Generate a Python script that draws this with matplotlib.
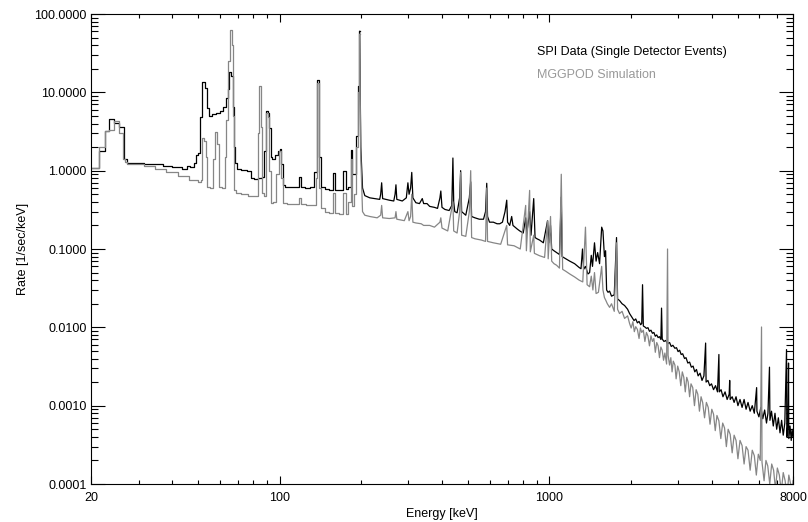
import matplotlib
matplotlib.use('Agg')
import matplotlib.pyplot as plt
from matplotlib.ticker import FixedLocator, LogLocator, FuncFormatter, NullFormatter

plt.rcParams['font.family'] = ['Liberation Sans', 'DejaVu Sans']

# SPI data, (energy [keV], rate [1/sec/keV])
spi_low = [
    (20, 1.08), (21.5, 1.08), (21.5, 1.8), (22.5, 1.8), (22.5, 3.2), (23.4, 3.2),
    (23.4, 4.6), (24.4, 4.6), (24.4, 4.1), (25.5, 4.1), (25.5, 3.6), (26.4, 3.6),
    (26.4, 1.4), (27.3, 1.4), (27.3, 1.25), (30, 1.25), (33, 1.22), (36, 1.2),
    (38, 1.15), (42, 1.1), (45, 1.05), (46, 1.15), (47.5, 1.12), (48.5, 1.25),
    (49.5, 1.6), (50.5, 1.7), (51.3, 4.8), (52.2, 13.5), (53.2, 11.5), (54.3, 6.3),
    (55.3, 5.0), (57, 5.3), (59, 5.5), (61, 5.8), (62.5, 6.5), (63.7, 8.5),
    (64.7, 11), (65.6, 18), (66.6, 16), (67.3, 6.5), (68.0, 2.0), (68.8, 1.25),
    (70, 1.05), (74, 1.02), (78, 1.0), (79, 0.8), (82, 0.78), (85, 0.8),
    (86.8, 0.83), (88.2, 1.8), (89.8, 5.8), (91, 5.5), (92, 3.5), (93.2, 1.5),
    (95, 1.4), (97.5, 1.6), (99.5, 1.8), (101, 1.9), (102.3, 1.2), (103.8, 0.65),
    (106, 0.62), (112, 0.62), (117, 0.62), (119, 0.83), (121, 0.62), (127, 0.6),
    (133, 0.62), (136, 0.95), (139, 14.4), (141, 1.5), (144, 0.62), (150, 0.58),
    (156, 0.57), (159, 0.93), (162, 0.57), (170, 0.56), (175, 1.0), (178, 0.58),
    (182, 0.62), (185, 1.85), (187, 0.9), (190, 0.9), (193, 2.8), (196, 12),
    (198, 60),
]
spi_mid = [
    (200, 2.0), (203, 0.6), (207, 0.48), (216, 0.45), (225, 0.44), (235, 0.43),
    (237, 0.5), (239, 0.7), (241, 0.44), (255, 0.42), (265, 0.41), (268, 0.5),
    (270, 0.66), (272, 0.43), (285, 0.41), (295, 0.45), (299, 0.7), (302, 0.5),
    (306, 0.6), (309, 0.95), (312, 0.45), (320, 0.39), (330, 0.38), (338, 0.44),
    (342, 0.38), (352, 0.38), (360, 0.35), (375, 0.34), (385, 0.33), (393, 0.45),
    (396, 0.55), (400, 0.34), (410, 0.32), (425, 0.31), (435, 0.36), (439, 1.45),
    (442, 0.4), (446, 0.3), (455, 0.29), (465, 0.45), (469, 1.0), (473, 0.3),
    (490, 0.27), (505, 0.45), (511, 0.72), (515, 0.26), (530, 0.25), (550, 0.24),
    (570, 0.24), (580, 0.3), (586, 0.69), (590, 0.26), (600, 0.22), (620, 0.22),
    (640, 0.21), (655, 0.21), (670, 0.22), (685, 0.3), (695, 0.42), (700, 0.22),
    (713, 0.2), (725, 0.26), (733, 0.2), (760, 0.18), (777, 0.17), (800, 0.16),
    (817, 0.25), (825, 0.16), (845, 0.3), (855, 0.15), (875, 0.44), (885, 0.14),
    (900, 0.135), (920, 0.13), (950, 0.12), (985, 0.23), (995, 0.12), (1010, 0.2),
    (1020, 0.1), (1040, 0.095), (1064, 0.09),
]
spi_high = [
    (1090, 0.085), (1107, 0.46), (1115, 0.08), (1150, 0.075), (1190, 0.07),
    (1240, 0.065), (1290, 0.058), (1310, 0.056), (1327, 0.1), (1340, 0.055),
    (1361, 0.06), (1390, 0.048), (1410, 0.05), (1430, 0.083), (1445, 0.06),
    (1470, 0.12), (1490, 0.07), (1510, 0.09), (1535, 0.065), (1563, 0.19),
    (1580, 0.17), (1600, 0.08), (1616, 0.095), (1630, 0.03), (1650, 0.028),
    (1672, 0.029), (1700, 0.025), (1740, 0.026), (1774, 0.14), (1790, 0.023),
    (1820, 0.022), (1860, 0.02), (1900, 0.019), (1950, 0.017), (1983, 0.015),
    (2030, 0.0132), (2060, 0.0122), (2090, 0.0128), (2120, 0.0114), (2150, 0.0119),
    (2180, 0.0108), (2200, 0.0112), (2215, 0.035), (2230, 0.0104), (2260, 0.0101),
    (2290, 0.0097), (2320, 0.0099), (2350, 0.0089), (2380, 0.0092), (2410, 0.0084),
    (2440, 0.0086), (2470, 0.0077), (2500, 0.008), (2530, 0.0074), (2560, 0.0076),
    (2590, 0.007), (2605, 0.0176), (2620, 0.0071), (2660, 0.0066), (2700, 0.0068),
    (2740, 0.0062), (2790, 0.0064), (2830, 0.0057), (2870, 0.0059), (2920, 0.0054),
    (2960, 0.0055), (3000, 0.0049), (3040, 0.0051), (3080, 0.0045), (3120, 0.0046),
    (3170, 0.004), (3210, 0.0041), (3260, 0.0035), (3310, 0.0036), (3360, 0.0031),
    (3410, 0.0032), (3460, 0.0027), (3510, 0.0029), (3560, 0.0024), (3620, 0.0026),
    (3680, 0.0021), (3740, 0.0024), (3795, 0.0063), (3810, 0.002), (3870, 0.0021),
    (3930, 0.0018), (3990, 0.0019), (4060, 0.0016), (4130, 0.0018), (4200, 0.0015),
    (4250, 0.0045), (4265, 0.0015), (4330, 0.0016), (4400, 0.0013), (4480, 0.0015),
    (4560, 0.0012), (4640, 0.0014), (4660, 0.0021), (4680, 0.0012), (4760, 0.0013),
    (4840, 0.0011), (4920, 0.0013), (5000, 0.001), (5090, 0.0012), (5180, 0.00095),
    (5270, 0.0012), (5360, 0.0009), (5450, 0.0011), (5550, 0.00085), (5650, 0.001),
    (5750, 0.0008), (5865, 0.0017), (5880, 0.00085), (5980, 0.00072), (6080, 0.00095),
    (6180, 0.00068), (6280, 0.00088), (6380, 0.0006), (6460, 0.0008), (6545, 0.0031),
    (6570, 0.00065), (6660, 0.00085), (6760, 0.00055), (6860, 0.0008), (6960, 0.0005),
    (7060, 0.0007), (7160, 0.00045), (7260, 0.00065), (7360, 0.00042), (7460, 0.0006),
    (7570, 0.0052), (7590, 0.0004), (7660, 0.0006), (7700, 0.0035), (7720, 0.00038),
    (7800, 0.00055), (7880, 0.00036), (7940, 0.0005), (8000, 0.0004),
]

# MGGPOD simulation
sim_low = [
    (20, 1.08), (21.5, 1.08), (21.5, 2.0), (22.5, 2.0), (22.5, 3.2), (23.4, 3.2),
    (23.4, 3.3), (24.4, 3.3), (24.4, 4.3), (25.4, 4.3), (25.4, 3.0), (26.2, 3.0),
    (26.2, 1.4), (27.3, 1.3), (27.3, 1.22), (30, 1.2), (33, 1.15), (36, 1.05),
    (40, 0.95), (44, 0.85), (48.6, 0.76), (50.7, 0.72), (51.3, 0.75), (52.0, 2.6),
    (53.0, 2.4), (53.6, 1.5), (54.5, 0.62), (56, 0.6), (57.0, 1.4), (58, 3.1),
    (59, 2.2), (60.0, 0.62), (62, 0.6), (63, 1.5), (64, 4.4), (65, 25), (66, 63),
    (67, 40), (67.6, 5), (68.3, 0.57), (70, 0.52), (74, 0.5), (79, 0.48),
    (82.5, 0.47), (83.5, 3.0), (84.5, 12), (85.5, 3.6), (86.2, 0.52), (88.5, 0.47),
    (89.8, 5.5), (91, 4.8), (92.5, 1.0), (93.5, 0.39), (96, 0.4), (98.5, 0.9),
    (100.5, 1.8), (102, 0.8), (103.5, 0.39), (110, 0.38), (117, 0.37), (119, 0.45),
    (121, 0.37), (130, 0.36), (135, 0.36), (137, 0.8), (139, 13), (141, 0.6),
    (144, 0.33), (150, 0.3), (156, 0.29), (159, 0.52), (162, 0.29), (170, 0.28),
    (175, 0.52), (178, 0.28), (182, 0.4), (185, 1.4), (187, 0.35), (190, 0.5),
    (193, 2.0), (196, 10), (198, 55),
]
sim_mid = [
    (200, 1.5), (203, 0.3), (207, 0.27), (216, 0.26), (230, 0.25), (237, 0.27),
    (239, 0.36), (241, 0.25), (255, 0.245), (268, 0.25), (270, 0.3), (272, 0.24),
    (290, 0.23), (299, 0.3), (302, 0.23), (306, 0.26), (309, 0.5), (312, 0.22),
    (320, 0.215), (335, 0.21), (342, 0.2), (360, 0.2), (375, 0.19), (393, 0.22),
    (396, 0.25), (400, 0.185), (420, 0.17), (439, 0.4), (442, 0.17), (455, 0.16),
    (465, 0.3), (469, 0.95), (473, 0.15), (490, 0.145), (505, 0.3), (511, 1.0),
    (515, 0.14), (530, 0.135), (560, 0.13), (580, 0.125), (586, 0.6), (590, 0.125),
    (620, 0.12), (660, 0.115), (695, 0.2), (700, 0.113), (740, 0.11), (780, 0.1),
    (817, 0.36), (822, 0.095), (845, 0.56), (850, 0.092), (875, 0.15), (880, 0.088),
    (920, 0.082), (960, 0.078), (985, 0.23), (990, 0.075), (1010, 0.26), (1020, 0.07),
    (1040, 0.065), (1064, 0.062),
]
sim_high = [
    (1090, 0.057), (1107, 0.9), (1120, 0.055), (1150, 0.052), (1190, 0.048),
    (1240, 0.044), (1290, 0.04), (1330, 0.038), (1361, 0.19), (1380, 0.035),
    (1410, 0.033), (1430, 0.045), (1450, 0.03), (1470, 0.05), (1490, 0.027),
    (1520, 0.028), (1563, 0.06), (1580, 0.03), (1600, 0.024), (1620, 0.022),
    (1640, 0.02), (1672, 0.018), (1700, 0.02), (1740, 0.016), (1774, 0.12),
    (1790, 0.017), (1820, 0.015), (1860, 0.016), (1900, 0.013), (1950, 0.014),
    (1983, 0.0112), (2010, 0.0098), (2040, 0.0118), (2065, 0.0088), (2090, 0.0102),
    (2120, 0.0094), (2150, 0.0072), (2175, 0.0098), (2200, 0.0086), (2230, 0.0092),
    (2260, 0.0066), (2290, 0.0086), (2320, 0.0077), (2350, 0.0058), (2380, 0.0078),
    (2410, 0.0066), (2440, 0.0072), (2470, 0.0048), (2500, 0.0064), (2530, 0.0058),
    (2560, 0.0041), (2590, 0.0056), (2620, 0.0051), (2650, 0.0038), (2680, 0.0047),
    (2720, 0.0034), (2742, 0.1), (2755, 0.0044), (2790, 0.0033), (2820, 0.0041),
    (2850, 0.0027), (2880, 0.0037), (2920, 0.0033), (2950, 0.0022), (2990, 0.0032),
    (3030, 0.0027), (3070, 0.0018), (3110, 0.0027), (3150, 0.0023), (3190, 0.0015),
    (3230, 0.0023), (3270, 0.002), (3310, 0.0013), (3350, 0.0019), (3400, 0.0017),
    (3450, 0.001), (3500, 0.0016), (3550, 0.0014), (3600, 0.00085), (3650, 0.0013),
    (3700, 0.0011), (3760, 0.0007), (3820, 0.0011), (3880, 0.00095), (3940, 0.00058),
    (4000, 0.0009), (4060, 0.00078), (4120, 0.00048), (4180, 0.00075), (4250, 0.00064),
    (4320, 0.00038), (4390, 0.0006), (4460, 0.00052), (4530, 0.0003), (4600, 0.0005),
    (4680, 0.00043), (4760, 0.00025), (4840, 0.00042), (4920, 0.00036), (5000, 0.00021),
    (5090, 0.00036), (5180, 0.00031), (5270, 0.00018), (5360, 0.0003), (5450, 0.00027),
    (5550, 0.00015), (5650, 0.00027), (5750, 0.00023), (5850, 0.00013), (5950, 0.00024),
    (6050, 0.0002), (6115, 0.0101), (6140, 0.00019), (6250, 0.00011), (6350, 0.0002),
    (6450, 0.00017), (6560, 0.0001), (6670, 0.00018), (6780, 0.00015), (6890, 0.000085),
    (7000, 0.00016), (7120, 0.00013), (7240, 0.00008), (7360, 0.00014), (7480, 0.00011),
    (7600, 0.00007), (7720, 0.00013), (7840, 0.0001), (7920, 0.00007), (8000, 0.00011),
]

x_major = [20, 100, 1000, 8000]
x_major_labels = ['20', '100', '1000', '8000']
x_minor = [30, 40, 50, 60, 70, 80, 90, 200, 300, 400, 500, 600, 700, 800, 900,
           2000, 3000, 4000, 5000, 6000, 7000]

GRAY = '#868686'

fig = plt.figure(figsize=(8.08, 5.22), dpi=100)
ax = fig.add_axes([91/808, 1 - 484/522, 702/808, 470/522])

# coarse bins below 200 keV drawn as a histogram, fine bins above as a line
for low, rest, col in [(spi_low, spi_mid + spi_high, 'black'),
                       (sim_low, sim_mid + sim_high, GRAY)]:
    e, r = zip(*low)
    ax.plot(e, r, color=col, lw=0.9, drawstyle='steps-mid')
    e, r = zip(*([low[-1]] + rest))
    ax.plot(e, r, color=col, lw=0.9)

ax.set_xscale('log')
ax.set_yscale('log')
ax.set_xlim(20, 8000)
ax.set_ylim(1e-4, 100)

ax.xaxis.set_major_locator(FixedLocator(x_major))
ax.set_xticklabels(x_major_labels)
ax.xaxis.set_minor_locator(FixedLocator(x_minor))
ax.xaxis.set_minor_formatter(NullFormatter())
ax.yaxis.set_major_locator(LogLocator(base=10, numticks=10))
ax.yaxis.set_major_formatter(FuncFormatter(lambda v, p: f'{v:.4f}'))
ax.yaxis.set_minor_locator(LogLocator(base=10, subs=range(2, 10), numticks=10))
ax.yaxis.set_minor_formatter(NullFormatter())

ax.tick_params(which='both', direction='in', top=True, right=True,
               width=0.8, labelsize=9, colors='black')
ax.tick_params(axis='y', which='major', length=10, pad=3)
ax.tick_params(axis='y', which='minor', length=5)
ax.tick_params(axis='x', which='major', length=6, pad=6)
ax.tick_params(axis='x', which='minor', length=2.8)
for s in ax.spines.values():
    s.set_linewidth(0.8)

ax.set_xlabel('Energy [keV]', fontsize=9)
ax.set_ylabel('Rate [1/sec/keV]', fontsize=9)
ax.xaxis.set_label_coords(0.5, -0.05)
ax.yaxis.set_label_coords(-0.088, 0.5)

ax.text(0.635, 0.919, 'SPI Data (Single Detector Events)', transform=ax.transAxes,
        fontsize=9, color='black', va='center', ha='left')
ax.text(0.635, 0.870, 'MGGPOD Simulation', transform=ax.transAxes,
        fontsize=9, color='#999999', va='center', ha='left')

fig.savefig('out.png', dpi=100)
